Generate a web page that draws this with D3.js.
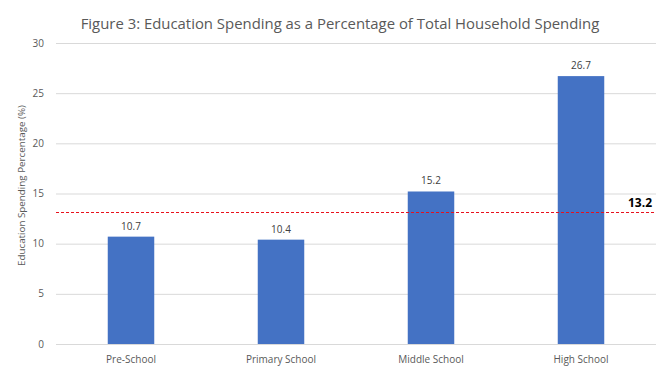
<!DOCTYPE html>
<html>
<head>
<meta charset="utf-8">
<script src="https://cdn.jsdelivr.net/npm/d3@7"></script>
<style>
  body { margin: 0; background: #fff; }
  svg text { font-family: "Open Sans", "Noto Sans", sans-serif; }
</style>
</head>
<body>
<div id="chart"></div>
<script>
const categories = ['Pre-School', 'Primary School', 'Middle School', 'High School'];
const spending = [10.7, 10.4, 15.2, 26.7];
const yTicks = [0, 5, 10, 15, 20, 25, 30];
const averageLine = 13.2;

const width = 670;
const height = 371;
const margin = { top: 43, right: 14, bottom: 27, left: 56 };

const svg = d3.select('#chart')
    .append('svg')
    .attr('width', width)
    .attr('height', height);

const x = d3.scaleBand()
    .domain(categories)
    .range([margin.left, width - margin.right])
    .paddingInner(0.69)
    .paddingOuter(0.345);

const y = d3.scaleLinear()
    .domain([0, 30])
    .range([height - margin.bottom, margin.top]);

// title
svg.append('text')
    .attr('x', 340)
    .attr('y', 29)
    .attr('text-anchor', 'middle')
    .style('font-size', '14.9px')
    .style('fill', '#595959')
    .text('Figure 3: Education Spending as a Percentage of Total Household Spending');

// gridlines
svg.append('g')
    .selectAll('line')
    .data(yTicks)
    .enter()
    .append('line')
    .attr('x1', margin.left)
    .attr('x2', width - margin.right)
    .attr('y1', d => y(d) + 0.5)
    .attr('y2', d => y(d) + 0.5)
    .attr('stroke', '#d9d9d9')
    .attr('stroke-width', 1);

// y tick labels
svg.append('g')
    .selectAll('text')
    .data(yTicks)
    .enter()
    .append('text')
    .attr('x', 44)
    .attr('y', d => y(d))
    .attr('dy', '0.35em')
    .attr('text-anchor', 'end')
    .style('font-size', '10px')
    .style('fill', '#595959')
    .text(d => d);

// y axis title
svg.append('text')
    .attr('transform', `translate(25,${(y(0) + y(30)) / 2 - 8}) rotate(-90)`)
    .attr('text-anchor', 'middle')
    .style('font-size', '9.8px')
    .style('fill', '#595959')
    .text('Education Spending Percentage (%)');

// bars
svg.append('g')
    .selectAll('rect')
    .data(spending)
    .enter()
    .append('rect')
    .attr('x', (d, i) => x(categories[i]))
    .attr('y', d => y(d))
    .attr('width', x.bandwidth())
    .attr('height', d => y(0) - y(d))
    .attr('fill', '#4472c4');

// value labels
svg.append('g')
    .selectAll('text')
    .data(spending)
    .enter()
    .append('text')
    .attr('x', (d, i) => x(categories[i]) + x.bandwidth() / 2)
    .attr('y', d => y(d) - 7)
    .attr('text-anchor', 'middle')
    .style('font-size', '10px')
    .style('fill', '#404040')
    .text(d => d.toFixed(1));

// category labels
svg.append('g')
    .selectAll('text')
    .data(categories)
    .enter()
    .append('text')
    .attr('x', d => x(d) + x.bandwidth() / 2)
    .attr('y', y(0) + 19)
    .attr('text-anchor', 'middle')
    .style('font-size', '10px')
    .style('fill', '#595959')
    .text(d => d);

// average line
svg.append('line')
    .attr('x1', margin.left)
    .attr('x2', width - margin.right)
    .attr('y1', Math.round(y(averageLine)) + 0.5)
    .attr('y2', Math.round(y(averageLine)) + 0.5)
    .attr('stroke', '#e8101c')
    .attr('stroke-width', 1.2)
    .attr('stroke-dasharray', '3,2');

svg.append('text')
    .attr('x', 652)
    .attr('y', y(averageLine) - 5)
    .attr('text-anchor', 'end')
    .style('font-size', '12px')
    .style('font-weight', 'bold')
    .style('fill', '#000')
    .text(averageLine);
</script>
</body>
</html>
